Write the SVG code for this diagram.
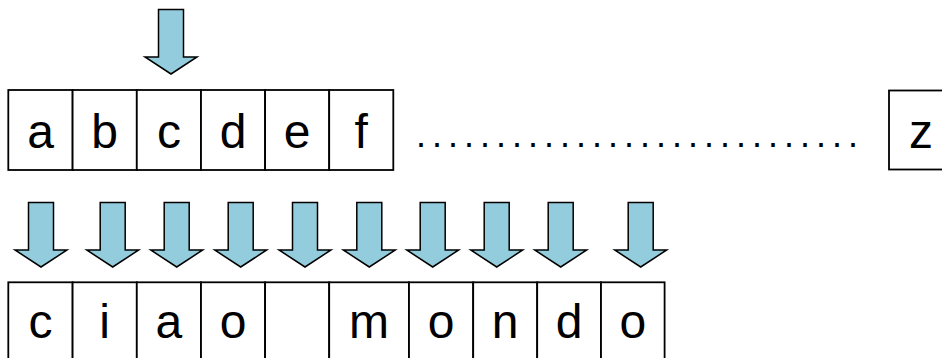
<svg xmlns="http://www.w3.org/2000/svg" xmlns:xlink="http://www.w3.org/1999/xlink" width="942" height="358" viewBox="0 0 942 358">
<style>
.cell{fill:#fff;stroke:#000;stroke-width:1.8}
.lbl{font-family:"Liberation Sans",Arial,sans-serif;font-size:48px;fill:#000;text-anchor:middle}
.dots{font-family:"Liberation Sans",Arial,sans-serif;font-size:36px;fill:#000;letter-spacing:6px}
.arr{fill:#93CDDD;stroke:#000;stroke-width:1.5;stroke-linejoin:miter}
</style>
<defs>
<path id="arrow" class="arr" d="M-12.5,0 H12.5 V47.5 H26 L0,64.5 L-26,47.5 H-12.5 Z"/>
</defs>
<rect width="942" height="358" fill="#fff"/>
<g id="arrows">
<use xlink:href="#arrow" href="#arrow" transform="translate(171,9.5)"/>
<use xlink:href="#arrow" href="#arrow" transform="translate(41,202.5)"/>
<use xlink:href="#arrow" href="#arrow" transform="translate(112.7,202.5)"/>
<use xlink:href="#arrow" href="#arrow" transform="translate(176.7,202.5)"/>
<use xlink:href="#arrow" href="#arrow" transform="translate(240.7,202.5)"/>
<use xlink:href="#arrow" href="#arrow" transform="translate(305,202.5)"/>
<use xlink:href="#arrow" href="#arrow" transform="translate(369.3,202.5)"/>
<use xlink:href="#arrow" href="#arrow" transform="translate(432.7,202.5)"/>
<use xlink:href="#arrow" href="#arrow" transform="translate(496.7,202.5)"/>
<use xlink:href="#arrow" href="#arrow" transform="translate(560.7,202.5)"/>
<use xlink:href="#arrow" href="#arrow" transform="translate(640.7,202.5)"/>
</g>
<g id="top-a"><rect class="cell" x="8.3" y="90" width="64.3" height="80"/><text class="lbl" x="40.5" y="147.5">a</text></g>
<g id="top-b"><rect class="cell" x="72.6" y="90" width="64.2" height="80"/><text class="lbl" x="104.7" y="147.5">b</text></g>
<g id="top-c"><rect class="cell" x="136.8" y="90" width="64.2" height="80"/><text class="lbl" x="168.9" y="147.5">c</text></g>
<g id="top-d"><rect class="cell" x="201" y="90" width="64.1" height="80"/><text class="lbl" x="233" y="147.5">d</text></g>
<g id="top-e"><rect class="cell" x="265.1" y="90" width="64.1" height="80"/><text class="lbl" x="297.1" y="147.5">e</text></g>
<g id="top-f"><rect class="cell" x="329.2" y="90" width="64.1" height="80"/><text class="lbl" x="361.2" y="147.5">f</text></g>
<g id="dots"><text class="dots" x="416" y="146.7">............................</text></g>
<g id="top-z"><rect class="cell" x="889" y="90.5" width="64" height="79"/><text class="lbl" x="921" y="147.5">z</text></g>
<g id="bot-c"><rect class="cell" x="8.3" y="282.3" width="64.3" height="80"/><text class="lbl" x="40.5" y="337.5">c</text></g>
<g id="bot-i"><rect class="cell" x="72.6" y="282.3" width="64.2" height="80"/><text class="lbl" x="104.7" y="337.5">i</text></g>
<g id="bot-a"><rect class="cell" x="136.8" y="282.3" width="64.2" height="80"/><text class="lbl" x="168.9" y="337.5">a</text></g>
<g id="bot-o1"><rect class="cell" x="201" y="282.3" width="64.1" height="80"/><text class="lbl" x="233" y="337.5">o</text></g>
<g id="bot-space"><rect class="cell" x="265.1" y="282.3" width="64.1" height="80"/></g>
<g id="bot-m"><rect class="cell" x="329.2" y="282.3" width="79.8" height="80"/><text class="lbl" x="369.1" y="337.5">m</text></g>
<g id="bot-o2"><rect class="cell" x="409" y="282.3" width="64.2" height="80"/><text class="lbl" x="441.1" y="337.5">o</text></g>
<g id="bot-n"><rect class="cell" x="473.2" y="282.3" width="64" height="80"/><text class="lbl" x="505.2" y="337.5">n</text></g>
<g id="bot-d"><rect class="cell" x="537.2" y="282.3" width="63.8" height="80"/><text class="lbl" x="569.1" y="337.5">d</text></g>
<g id="bot-o3"><rect class="cell" x="601" y="282.3" width="63.6" height="80"/><text class="lbl" x="632.8" y="337.5">o</text></g>
</svg>
